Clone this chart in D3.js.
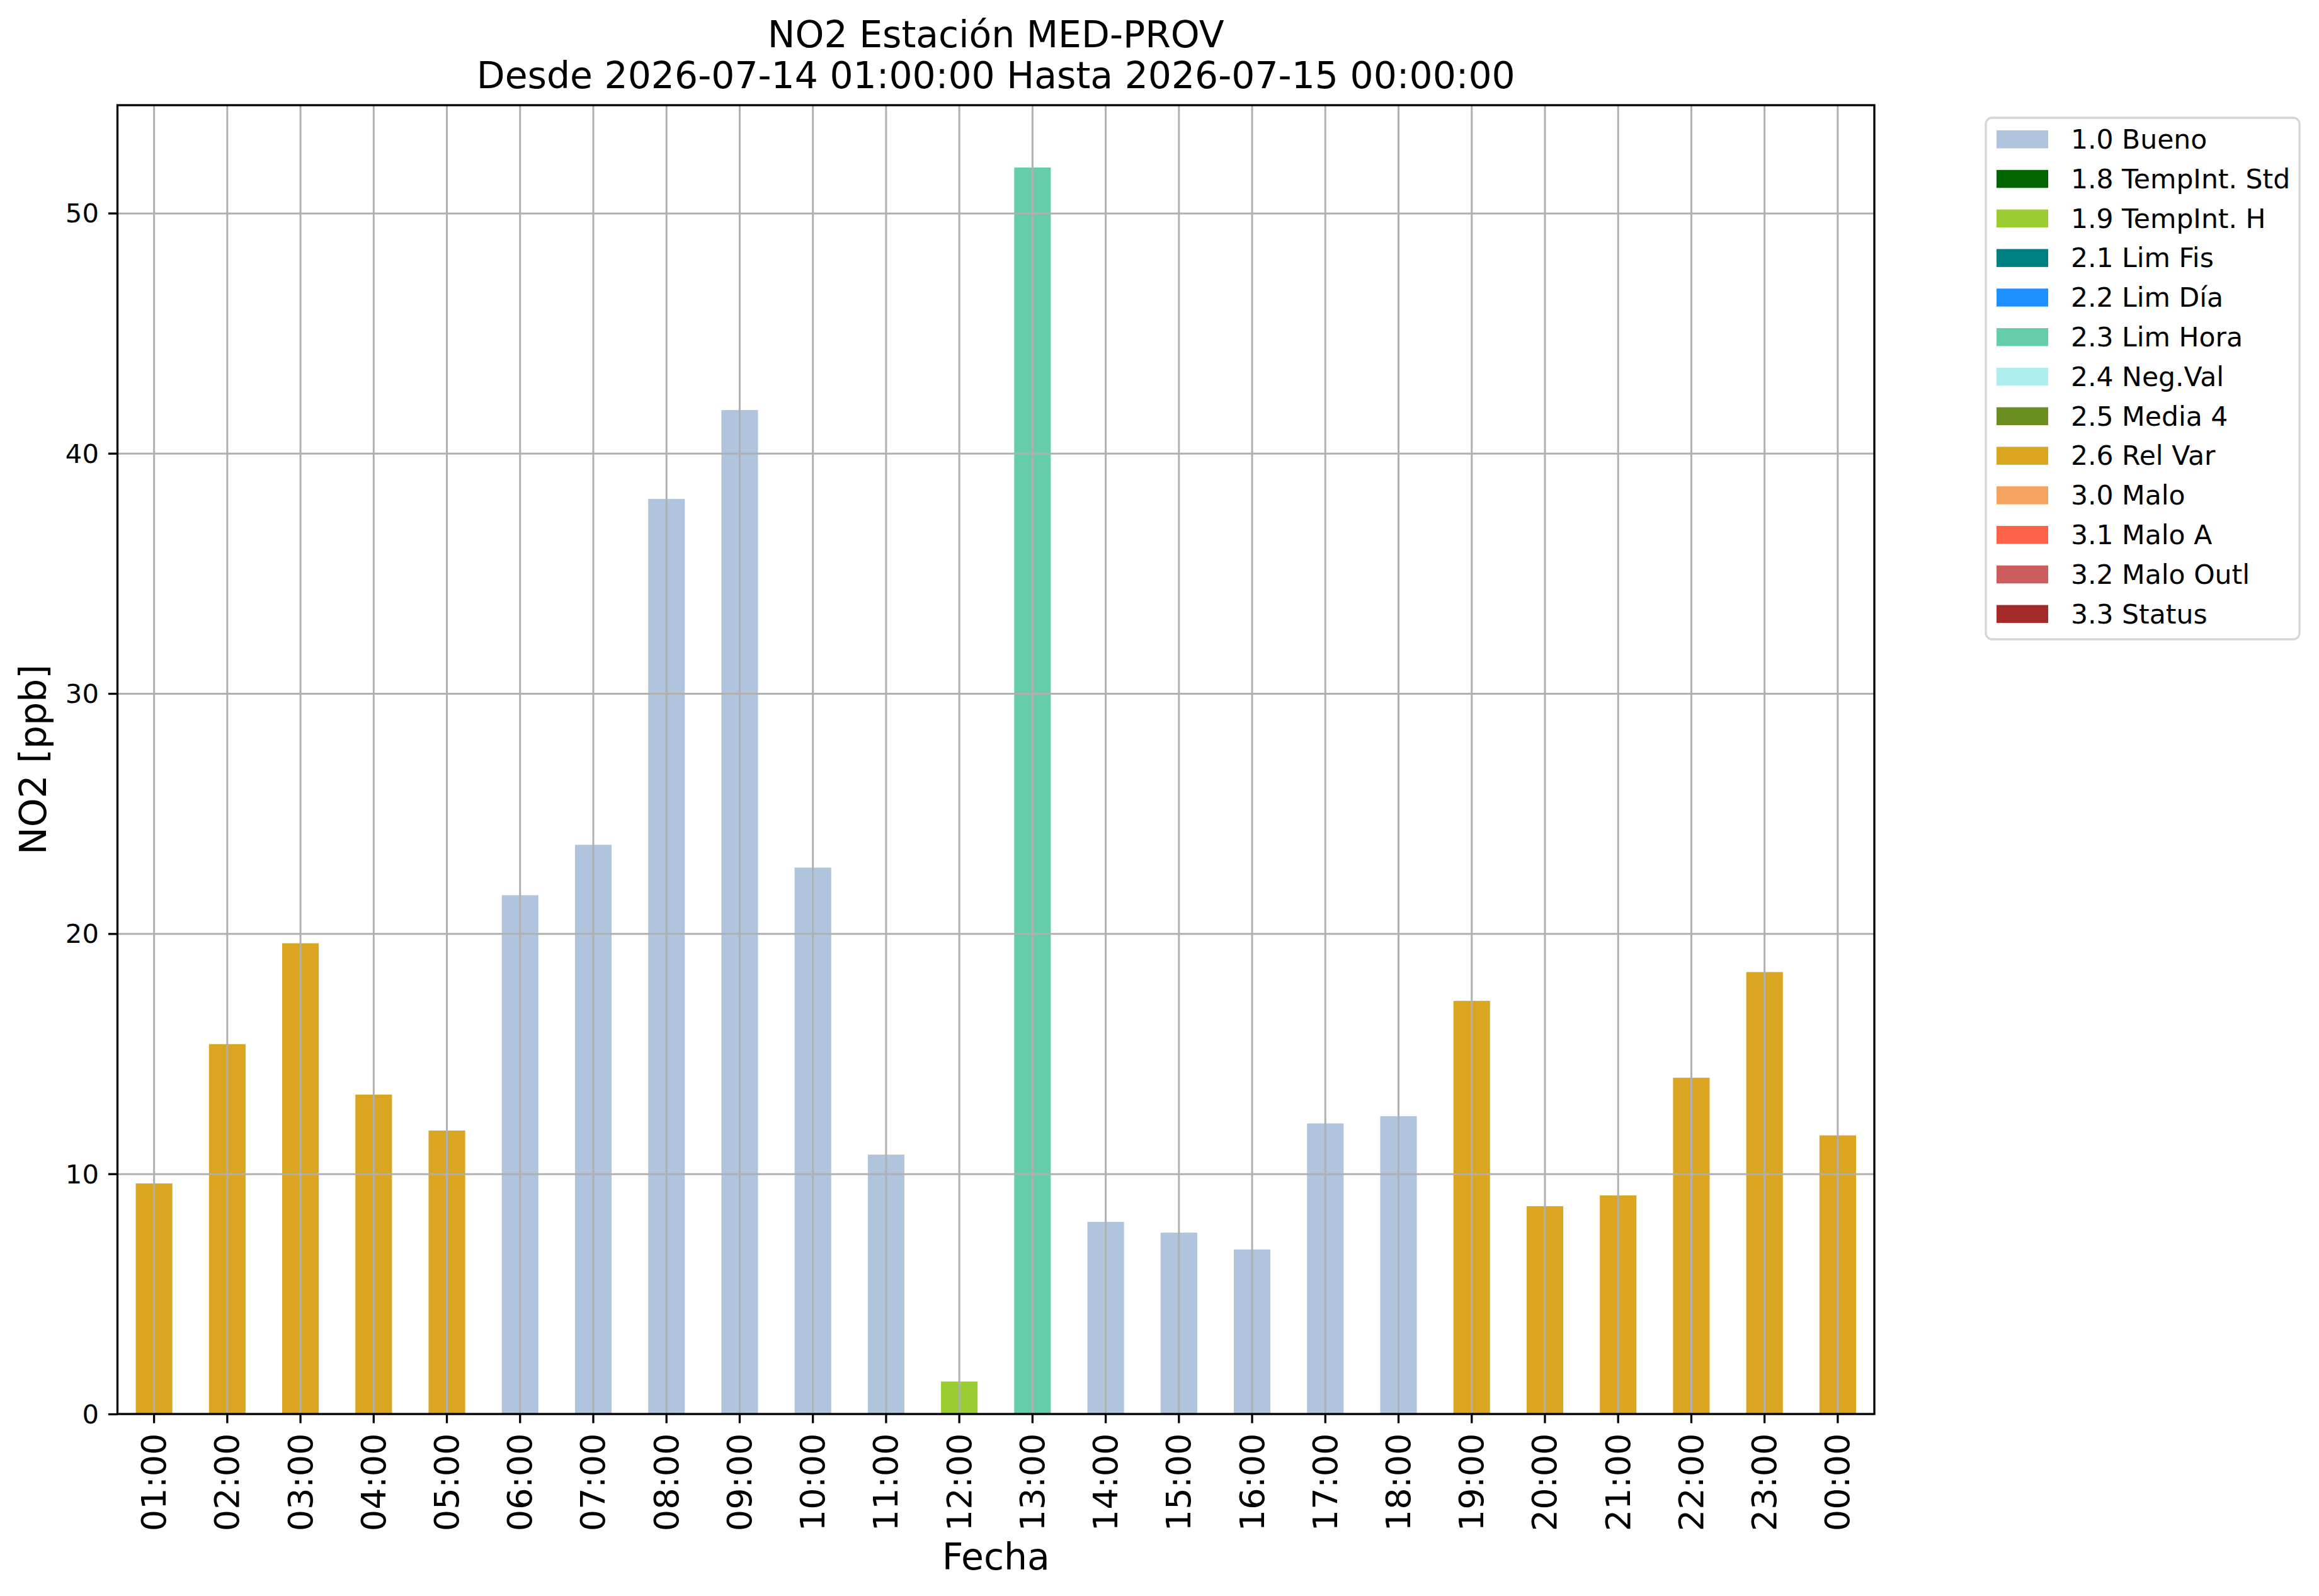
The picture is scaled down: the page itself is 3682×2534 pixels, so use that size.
<!DOCTYPE html>
<html>
<head>
<meta charset="utf-8">
<script src="https://cdn.jsdelivr.net/npm/d3@7"></script>
<style>
  body { margin: 0; background: #fff; }
  text { font-family: "DejaVu Sans", sans-serif; fill: #000; }
</style>
</head>
<body>
<script>
// data ====================================================================
var hours = ["01:00", "02:00", "03:00", "04:00", "05:00", "06:00", "07:00", "08:00",
             "09:00", "10:00", "11:00", "12:00", "13:00", "14:00", "15:00", "16:00",
             "17:00", "18:00", "19:00", "20:00", "21:00", "22:00", "23:00", "00:00"]
var no2 = [9.6, 15.4, 19.6, 13.3, 11.8, 21.6, 23.7, 38.1,
           41.8, 22.75, 10.8, 1.35, 51.9, 8.0, 7.55, 6.85,
           12.1, 12.4, 17.2, 8.65, 9.1, 14.0, 18.4, 11.6]
var flags = ["2.6 Rel Var", "2.6 Rel Var", "2.6 Rel Var", "2.6 Rel Var", "2.6 Rel Var",
             "1.0 Bueno", "1.0 Bueno", "1.0 Bueno", "1.0 Bueno", "1.0 Bueno", "1.0 Bueno",
             "1.9 TempInt. H", "2.3 Lim Hora",
             "1.0 Bueno", "1.0 Bueno", "1.0 Bueno", "1.0 Bueno", "1.0 Bueno",
             "2.6 Rel Var", "2.6 Rel Var", "2.6 Rel Var", "2.6 Rel Var", "2.6 Rel Var", "2.6 Rel Var"]
var yTicks = [0, 10, 20, 30, 40, 50]
var legendNames = ["1.0 Bueno", "1.8 TempInt. Std", "1.9 TempInt. H", "2.1 Lim Fis", "2.2 Lim Día",
                   "2.3 Lim Hora", "2.4 Neg.Val", "2.5 Media 4", "2.6 Rel Var", "3.0 Malo",
                   "3.1 Malo A", "3.2 Malo Outl", "3.3 Status"]
var legendColors = ["lightsteelblue", "darkgreen", "yellowgreen", "teal", "dodgerblue",
                    "mediumaquamarine", "paleturquoise", "olivedrab", "goldenrod", "sandybrown",
                    "tomato", "indianred", "brown"]
var title1 = "NO2 Estación MED-PROV"
var title2 = "Desde 2026-07-14 01:00:00 Hasta 2026-07-15 00:00:00"

// layout ==================================================================
var W = 3682, H = 2534
var plot = { left: 186.5, right: 2976, top: 167, bottom: 2245 }
var grid = "#b0b0b0"
var lw = 3.3      // spine / tick width
var tickLen = 14.6

var svg = d3.select("body").append("svg")
  .attr("width", W).attr("height", H)
  .attr("xmlns", "http://www.w3.org/2000/svg")

var rows = hours.map(function(h, i) { return { hour: h, value: no2[i], flag: flags[i] } })

var x = d3.scaleBand().domain(hours).range([plot.left, plot.right]).padding(0)
var y = d3.scaleLinear().domain([0, d3.max(no2) * 1.05]).range([plot.bottom, plot.top])
var color = d3.scaleOrdinal().domain(legendNames).range(legendColors)

// bars
svg.append("g").selectAll("rect")
  .data(rows)
  .enter().append("rect")
  .attr("x", function(d) { return x(d.hour) + x.bandwidth() * 0.25 })
  .attr("width", x.bandwidth() * 0.5)
  .attr("y", function(d) { return y(d.value) })
  .attr("height", function(d) { return y(0) - y(d.value) })
  .style("fill", function(d) { return color(d.flag) })

// grid (drawn over the bars, like the original)
var gx = svg.append("g")
  .attr("transform", "translate(0," + plot.bottom + ")")
  .call(d3.axisBottom(x).tickSize(-(plot.bottom - plot.top)).tickFormat(""))
gx.select(".domain").remove()
gx.selectAll("line").attr("stroke", grid).attr("stroke-width", 3)

var gy = svg.append("g")
  .attr("transform", "translate(" + plot.left + ",0)")
  .call(d3.axisLeft(y).tickValues(yTicks).tickSize(-(plot.right - plot.left)).tickFormat(""))
gy.select(".domain").remove()
gy.selectAll("line").attr("stroke", grid).attr("stroke-width", 3)

// axes
var ax = svg.append("g")
  .attr("transform", "translate(0," + plot.bottom + ")")
  .call(d3.axisBottom(x).tickSize(tickLen).tickSizeOuter(0).tickPadding(0))
ax.select(".domain").remove()
ax.selectAll("line").attr("stroke", "#000").attr("stroke-width", lw)
ax.selectAll("text")
  .attr("font-size", "54px")
  .attr("font-family", "DejaVu Sans")
  .attr("text-anchor", "end")
  .attr("dominant-baseline", "central")
  .attr("dy", null)
  .attr("y", 0)
  .attr("transform", "translate(0," + (tickLen + 16) + ") rotate(-90)")

var ay = svg.append("g")
  .attr("transform", "translate(" + plot.left + ",0)")
  .call(d3.axisLeft(y).tickValues(yTicks).tickSize(tickLen).tickSizeOuter(0).tickPadding(15))
ay.select(".domain").remove()
ay.selectAll("line").attr("stroke", "#000").attr("stroke-width", lw)
ay.selectAll("text")
  .attr("font-size", "41.7px")
  .attr("font-family", "DejaVu Sans")
  .attr("dy", null)
  .attr("dominant-baseline", "central")

// frame
svg.append("rect")
  .attr("x", plot.left).attr("y", plot.top)
  .attr("width", plot.right - plot.left).attr("height", plot.bottom - plot.top)
  .style("fill", "none").style("stroke", "#000").style("stroke-width", lw)

// titles
var cx = (plot.left + plot.right) / 2
svg.append("text").attr("x", cx).attr("y", 75).attr("text-anchor", "middle")
  .attr("font-size", "58.4px").text(title1)
svg.append("text").attr("x", cx).attr("y", 140).attr("text-anchor", "middle")
  .attr("font-size", "58.4px").text(title2)
svg.append("text").attr("x", cx).attr("y", 2492).attr("text-anchor", "middle")
  .attr("font-size", "58.4px").text("Fecha")
svg.append("text")
  .attr("transform", "translate(73," + ((plot.top + plot.bottom) / 2) + ") rotate(-90)")
  .attr("text-anchor", "middle")
  .attr("font-size", "58.4px").text("NO2 [ppb]")

// legend
var lg = svg.append("g")
lg.append("rect")
  .attr("x", 3153).attr("y", 187).attr("width", 498).attr("height", 828)
  .attr("rx", 10).attr("ry", 10)
  .style("fill", "#fff").style("stroke", "#d6d6d6").style("stroke-width", lw)

var item = lg.selectAll(".item")
  .data(legendNames)
  .enter().append("g")
  .attr("transform", function(d, i) { return "translate(3170," + (207 + i * 62.8) + ")" })
item.append("rect")
  .attr("width", 82).attr("height", 28.5)
  .style("fill", function(d) { return color(d) })
item.append("text")
  .attr("x", 118).attr("y", 29)
  .attr("font-size", "42.5px")
  .text(function(d) { return d })
</script>
</body>
</html>
